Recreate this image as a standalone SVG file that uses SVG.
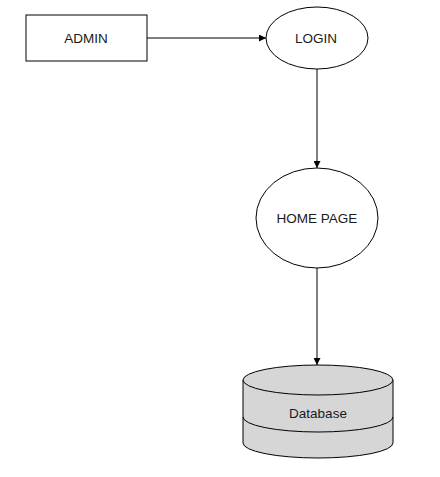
<svg xmlns="http://www.w3.org/2000/svg" width="440" height="477" viewBox="0 0 440 477">
<style>
.s{fill:#fff;stroke:#000;stroke-width:1}
.t{font-family:"Liberation Sans",Arial,sans-serif;font-size:13.5px;fill:#1a1a1a;text-anchor:middle}
.c{stroke:#000;stroke-width:1;fill:none;marker-end:url(#a)}
.db{fill:#d6d6d6;stroke:#000;stroke-width:1}
</style>
<defs>
<marker id="a" viewBox="0 0 10 10" refX="10" refY="5" markerWidth="7" markerHeight="7" markerUnits="userSpaceOnUse" orient="auto">
<path d="M0,0 L10,5 L0,10 z" fill="#000"/>
</marker>
</defs>
<rect width="440" height="477" fill="#fff"/>
<g id="connectors">
<line class="c" x1="147" y1="38" x2="266" y2="38"/>
<line class="c" x1="317" y1="69" x2="317" y2="168"/>
<line class="c" x1="317" y1="268" x2="317" y2="365"/>
</g>
<g id="admin">
<rect class="s" x="26" y="15" width="121" height="46"/>
<text class="t" x="86" y="43">ADMIN</text>
</g>
<g id="login">
<ellipse class="s" cx="317" cy="38" rx="51" ry="31"/>
<text class="t" x="316" y="43">LOGIN</text>
</g>
<g id="home">
<ellipse class="s" cx="317" cy="218" rx="61" ry="50"/>
<text class="t" x="317" y="223">HOME PAGE</text>
</g>
<g id="database">
<path class="db" d="M243,380 L243,443 A75,15 0 0 0 393,443 L393,380"/>
<ellipse class="db" cx="318" cy="380" rx="75" ry="15"/>
<path d="M243,417 A75,15 0 0 0 393,417" fill="none" stroke="#000"/>
<text class="t" x="318" y="418">Database</text>
</g>
</svg>
